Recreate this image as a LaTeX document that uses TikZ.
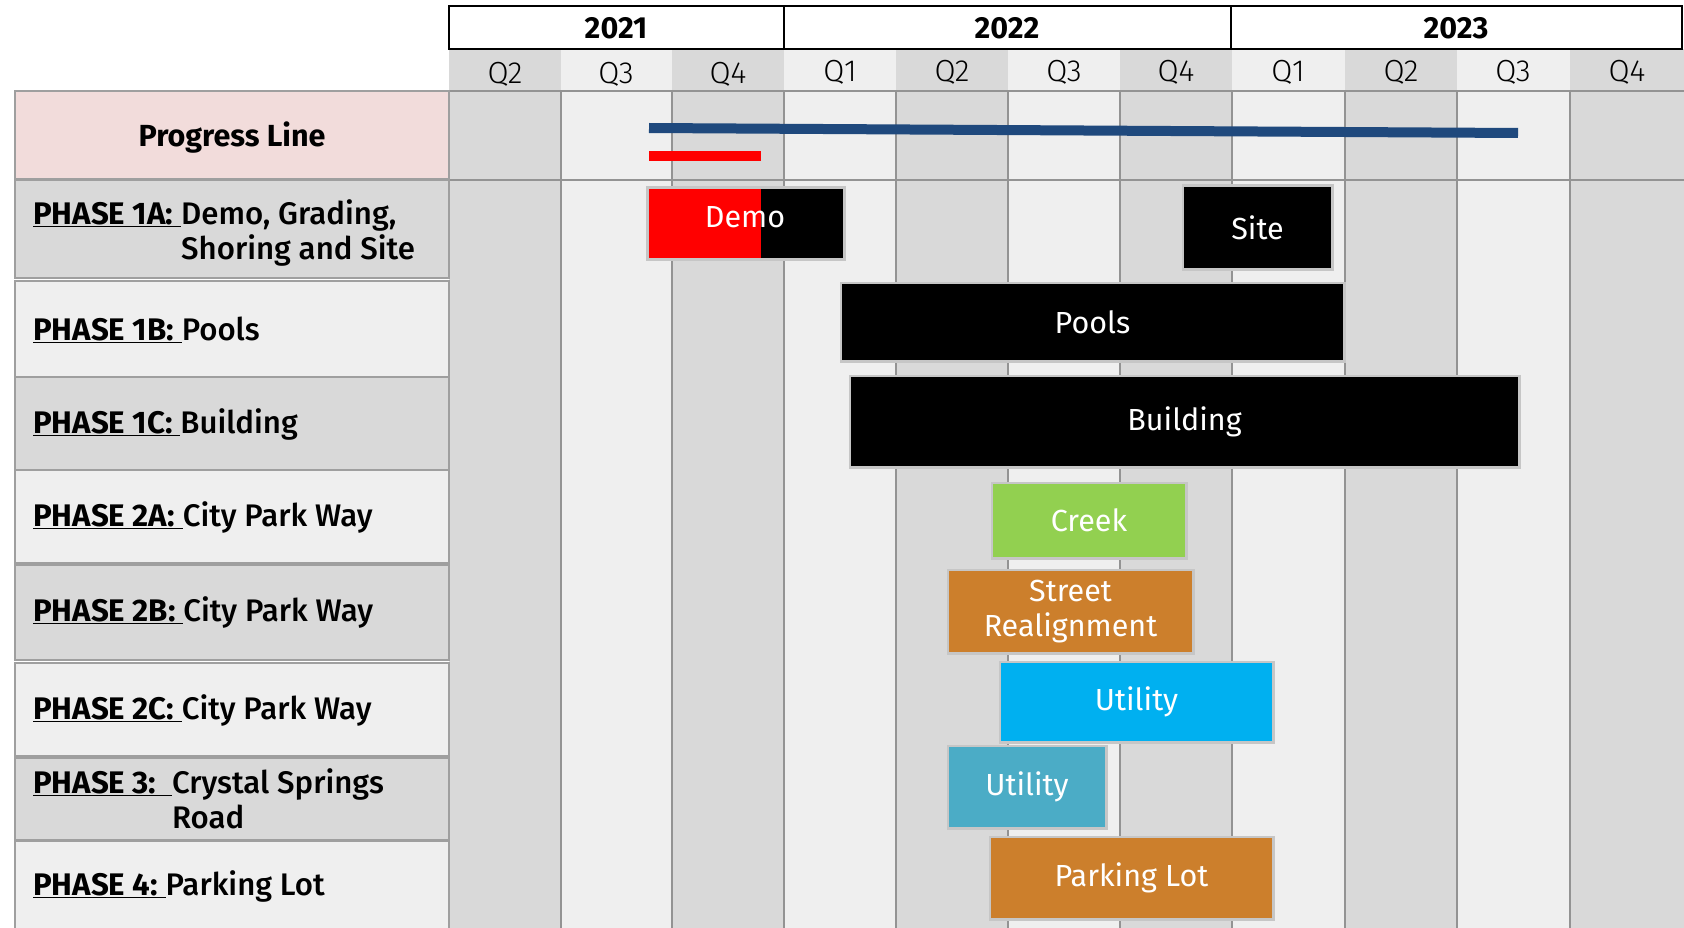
\documentclass[tikz,border=0pt]{standalone}
\usepackage{fontspec}
\setmainfont{Fira Sans}
\newfontfamily\qlight{Fira Sans Light}
\newfontfamily\labelfont{Fira Sans Medium}[BoldFont={Fira Sans Bold}]
\definecolor{darkcol}{HTML}{D9D9D9}
\definecolor{lightcol}{HTML}{EFEFEF}
\definecolor{pinkcell}{HTML}{F2DCDB}
\definecolor{navyline}{HTML}{1F497D}
\definecolor{creekgreen}{HTML}{92D050}
\definecolor{streetorange}{HTML}{CC7F2C}
\definecolor{utilblue}{HTML}{00B0F0}
\definecolor{utilteal}{HTML}{4BACC6}
\newcommand{\phaselabel}[1]{\underline{\textbf{PHASE #1:}\ }}
\begin{document}
\begin{tikzpicture}[x=1pt,y=-1pt,
	every node/.style={font=\fontsize{30.5}{35.5}\selectfont},
	cell/.style={draw=gray!75,line width=2},
	yearbox/.style={draw=black,fill=white,line width=1.5},
	gridline/.style={draw=gray!85,line width=1.5},
	bar/.style={inner sep=0,outer sep=0,text=white,align=center,preaction={draw=gray!45,line width=5}},
	rowlabel/.style={anchor=west,align=left,inner sep=0,font=\labelfont\fontsize{31.2}{35.5}\selectfont},
	quarter/.style={font=\qlight\fontsize{30.5}{35.5}\selectfont}]
			\useasboundingbox (0,0) rectangle (1684,928);
			% quarter columns
			\fill[darkcol] (449,49) rectangle (561,928);
			\fill[lightcol] (561,49) rectangle (672,928);
			\fill[darkcol] (672,49) rectangle (784,928);
			\fill[lightcol] (784,49) rectangle (896,928);
			\fill[darkcol] (896,49) rectangle (1008,928);
			\fill[lightcol] (1008,49) rectangle (1120,928);
			\fill[darkcol] (1120,49) rectangle (1232,928);
			\fill[lightcol] (1232,49) rectangle (1345,928);
			\fill[darkcol] (1345,49) rectangle (1457,928);
			\fill[lightcol] (1457,49) rectangle (1570,928);
			\fill[darkcol] (1570,49) rectangle (1684,928);
			\draw[gridline] (561,91) -- (561,928);
			\draw[gridline] (672,91) -- (672,928);
			\draw[gridline] (784,91) -- (784,928);
			\draw[gridline] (896,91) -- (896,928);
			\draw[gridline] (1008,91) -- (1008,928);
			\draw[gridline] (1120,91) -- (1120,928);
			\draw[gridline] (1232,91) -- (1232,928);
			\draw[gridline] (1345,91) -- (1345,928);
			\draw[gridline] (1457,91) -- (1457,928);
			\draw[gridline] (1570,91) -- (1570,928);
			\draw[gridline] (449,91) -- (1684,91);
			\draw[gridline] (449,180) -- (1684,180);
			% years
			\draw[yearbox] (449,6) rectangle (784,49);
			\draw[yearbox] (784,6) rectangle (1231,49);
			\draw[yearbox] (1231,6) rectangle (1682,49);
			\node (y21) at (616,28) {\textbf{2021}};
			\node (y22) at (1007,28) {\textbf{2022}};
			\node (y23) at (1456,28) {\textbf{2023}};
			\node[quarter] (q21b) at (505,74) {Q2};
			\node[quarter] (q21c) at (616,74) {Q3};
			\node[quarter] (q21d) at (728,74) {Q4};
			\node[quarter] (q22a) at (840,72) {Q1};
			\node[quarter] (q22b) at (952,72) {Q2};
			\node[quarter] (q22c) at (1064,72) {Q3};
			\node[quarter] (q22d) at (1176,72) {Q4};
			\node[quarter] (q23a) at (1288,72) {Q1};
			\node[quarter] (q23b) at (1401,72) {Q2};
			\node[quarter] (q23c) at (1513,72) {Q3};
			\node[quarter] (q23d) at (1627,72) {Q4};
			% phase table
			\draw[cell,fill=pinkcell] (15,91) rectangle (449,179);
			\draw[cell,fill=darkcol] (15,180) rectangle (449,278);
			\draw[cell,fill=lightcol] (15,281) rectangle (449,377);
			\draw[cell,fill=darkcol] (15,377) rectangle (449,470);
			\draw[cell,fill=lightcol] (15,470) rectangle (449,563);
			\draw[cell,fill=darkcol] (15,565) rectangle (449,660);
			\draw[cell,fill=lightcol] (15,663) rectangle (449,756);
			\draw[cell,fill=darkcol] (15,758) rectangle (449,840);
			\draw[cell,fill=lightcol] (15,841) rectangle (449,929);
			\node (prog) at (232,138) {\textbf{Progress Line}};
			\node[rowlabel] (p1a) at (33,233) {\phaselabel{1A}Demo, Grading,\\\hphantom{\phaselabel{1A}}Shoring and Site};
			\node[rowlabel] (p1b) at (33,330) {\phaselabel{1B}Pools};
			\node[rowlabel] (p1c) at (33,424) {\phaselabel{1C}Building};
			\node[rowlabel] (p2a) at (33,517) {\phaselabel{2A}City Park Way};
			\node[rowlabel] (p2b) at (33,612) {\phaselabel{2B}City Park Way};
			\node[rowlabel] (p2c) at (33,710) {\phaselabel{2C}City Park Way};
			\node[rowlabel] (p3) at (33,799) {\underline{\textbf{PHASE 3:}\ \ }Crystal Springs\\\hphantom{\underline{\textbf{PHASE 3:}\ \ }}Road};
			\node[rowlabel] (p4) at (33,886) {\phaselabel{4}Parking Lot};
			% progress lines
			\draw[navyline,line width=10] (649,128) -- (1518,133);
			\draw[red,line width=10] (649,156) -- (761,156);
			% bars
			\fill[gray!45] (646,186) rectangle (846,261);
			\fill[red] (649,189) rectangle (761,258);
			\fill[black] (761,189) rectangle (843,258);
			\node[text=white] (demo) at (745,217) {Demo};
			\node[bar,fill=black,minimum width=147,minimum height=81] (site) at (1257.5,227.5) {Site};
			\node[bar,fill=black,minimum width=501,minimum height=76] (pools) at (1092.5,322) {Pools};
			\node[bar,fill=black,minimum width=667,minimum height=89] (building) at (1184.5,421.5) {Building};
			\node[bar,fill=creekgreen,minimum width=192,minimum height=73] (creek) at (1089,520.5) {Creek};
			\node[bar,fill=streetorange,minimum width=243,minimum height=81] (street) at (1070.5,611.5) {Street\\Realignment};
			\node[bar,fill=utilblue,minimum width=271,minimum height=78] (util2c) at (1136.5,702) {Utility};
			\node[bar,fill=utilteal,minimum width=156,minimum height=80] (util3) at (1027,787) {Utility};
			\node[bar,fill=streetorange,minimum width=281,minimum height=80] (parking) at (1131.5,878) {Parking Lot};
		\end{tikzpicture}
\end{document}
